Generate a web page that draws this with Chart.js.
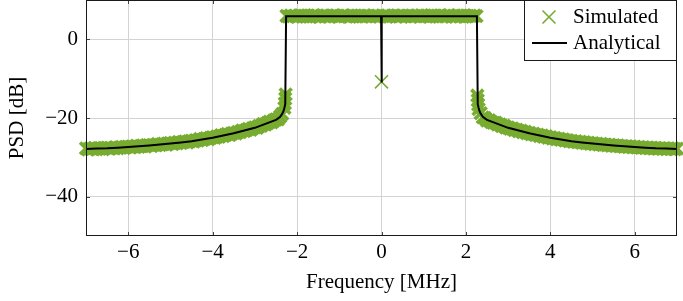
<!DOCTYPE html>
<html>
<head>
<meta charset="utf-8">
<script src="https://cdn.jsdelivr.net/npm/chart.js@4.4.1/dist/chart.umd.min.js"></script>
<style>
  html, body { margin: 0; padding: 0; background: #fff; }
  #wrap { width: 683px; height: 301px; }
</style>
</head>
<body>
<div id="wrap"><canvas id="c" width="683" height="301"></canvas></div>
<script>
// ---------- data ----------
const xTicks = [-6, -4, -2, 0, 2, 4, 6];
const yTicks = [-40, -20, 0];
const seriesNames = ['Simulated', 'Analytical'];

// Analytical PSD curve [MHz], [dB]
const anaFreq = [-7, -6.75, -6.5, -6.25, -6, -5.75, -5.5, -5.25, -5, -4.75, -4.5, -4.25, -4, -3.75, -3.5, -3.25, -3, -2.75, -2.5, -2.45, -2.4, -2.35, -2.32, -2.3, -2.28, -2.26,
  -0.01, 0, 0.01,
  2.26, 2.28, 2.3, 2.32, 2.35, 2.4, 2.45, 2.5, 2.75, 3, 3.25, 3.5, 3.75, 4, 4.25, 4.5, 4.75, 5, 5.25, 5.5, 5.75, 6, 6.25, 6.5, 6.75, 7];
const anaPsd = [-27.85, -27.78, -27.7, -27.55, -27.4, -27.2, -27.0, -26.75, -26.5, -26.2, -25.9, -25.45, -25.0, -24.45, -23.9, -23.2, -22.5, -21.5, -20.5, -20.1, -19.7, -18.9, -18.2, -17.4, -16.5, 5.9,
  5.9, -11.0, 5.9,
  5.9, -16.5, -17.4, -18.2, -18.9, -19.7, -20.1, -20.5, -21.5, -22.5, -23.2, -23.9, -24.45, -25.0, -25.45, -25.9, -26.2, -26.5, -26.75, -27.0, -27.2, -27.4, -27.55, -27.7, -27.78, -27.85];

// Simulated PSD samples [MHz], [dB]
const simFreq = [
  -7.00,-6.95,-6.90,-6.85,-6.80,-6.75,-6.70,-6.65,-6.60,-6.55,
  -6.50,-6.45,-6.40,-6.35,-6.30,-6.25,-6.20,-6.15,-6.10,-6.05,
  -6.00,-5.95,-5.90,-5.85,-5.80,-5.75,-5.70,-5.65,-5.60,-5.55,
  -5.50,-5.45,-5.40,-5.35,-5.30,-5.25,-5.20,-5.15,-5.10,-5.05,
  -5.00,-4.95,-4.90,-4.85,-4.80,-4.75,-4.70,-4.65,-4.60,-4.55,
  -4.50,-4.45,-4.40,-4.35,-4.30,-4.25,-4.20,-4.15,-4.10,-4.05,
  -4.00,-3.95,-3.90,-3.85,-3.80,-3.75,-3.70,-3.65,-3.60,-3.55,
  -3.50,-3.45,-3.40,-3.35,-3.30,-3.25,-3.20,-3.15,-3.10,-3.05,
  -3.00,-2.95,-2.90,-2.85,-2.80,-2.75,-2.70,-2.65,-2.60,-2.55,
  -2.50,-2.45,-2.40,-2.35,-2.30,
  -2.29,-2.28,-2.27,
  -2.25,-2.20,-2.15,-2.10,-2.05,-2.00,-1.95,-1.90,-1.85,-1.80,
  -1.75,-1.70,-1.65,-1.60,-1.55,-1.50,-1.45,-1.40,-1.35,-1.30,
  -1.25,-1.20,-1.15,-1.10,-1.05,-1.00,-0.95,-0.90,-0.85,-0.80,
  -0.75,-0.70,-0.65,-0.60,-0.55,-0.50,-0.45,-0.40,-0.35,-0.30,
  -0.25,-0.20,-0.15,-0.10,-0.05,
  0.00,
  0.05,0.10,0.15,0.20,0.25,
  0.30,0.35,0.40,0.45,0.50,0.55,0.60,0.65,0.70,0.75,
  0.80,0.85,0.90,0.95,1.00,1.05,1.10,1.15,1.20,1.25,
  1.30,1.35,1.40,1.45,1.50,1.55,1.60,1.65,1.70,1.75,
  1.80,1.85,1.90,1.95,2.00,2.05,2.10,2.15,2.20,2.25,
  2.27,2.28,2.29,
  2.30,2.35,2.40,2.45,2.50,2.55,2.60,2.65,2.70,2.75,
  2.80,2.85,2.90,2.95,3.00,3.05,3.10,3.15,3.20,3.25,
  3.30,3.35,3.40,3.45,3.50,3.55,3.60,3.65,3.70,3.75,
  3.80,3.85,3.90,3.95,4.00,4.05,4.10,4.15,4.20,4.25,
  4.30,4.35,4.40,4.45,4.50,4.55,4.60,4.65,4.70,4.75,
  4.80,4.85,4.90,4.95,5.00,5.05,5.10,5.15,5.20,5.25,
  5.30,5.35,5.40,5.45,5.50,5.55,5.60,5.65,5.70,5.75,
  5.80,5.85,5.90,5.95,6.00,6.05,6.10,6.15,6.20,6.25,
  6.30,6.35,6.40,6.45,6.50,6.55,6.60,6.65,6.70,6.75,
  6.80,6.85,6.90,6.95,7.00
];
const simPsd = [
  -27.72,-28.03,-27.76,-27.92,-27.61,-27.95,-27.71,-27.62,-27.94,-27.66,
  -27.57,-27.85,-27.60,-27.72,-27.41,-27.68,-27.49,-27.35,-27.65,-27.37,
  -27.27,-27.52,-27.25,-27.38,-27.05,-27.33,-27.12,-26.98,-27.27,-26.95,
  -26.89,-27.10,-26.84,-26.95,-26.62,-26.88,-26.67,-26.52,-26.80,-26.49,
  -26.37,-26.60,-26.31,-26.41,-26.07,-26.34,-26.11,-25.94,-26.22,-25.89,
  -25.79,-25.98,-25.66,-25.72,-25.35,-25.59,-25.33,-25.13,-25.39,-25.02,
  -24.88,-25.06,-24.72,-24.76,-24.37,-24.59,-24.31,-24.09,-24.33,-23.94,
  -23.78,-23.93,-23.57,-23.57,-23.15,-23.34,-23.03,-22.78,-22.99,-22.57,
  -22.38,-22.47,-22.04,-21.99,-21.51,-21.65,-21.27,-20.96,-21.11,-20.62,
  -20.38,-20.30,-19.62,-18.95,-17.42,
  -16.3,-15.1,-14.0,
  5.95,5.78,6.08,5.84,6.02,5.71,5.99,6.10,5.82,5.93,
  6.05,5.76,5.91,6.12,5.80,5.97,5.74,6.04,5.88,6.09,
  5.79,5.96,6.07,5.83,6.00,5.72,5.94,6.11,5.86,5.98,
  5.75,6.06,5.90,5.81,6.03,5.92,5.77,6.08,5.85,5.99,
  5.82,6.04,5.89,5.96,5.78,
  -10.8,
  6.01,5.87,6.09,5.80,5.95,
  6.07,5.74,5.98,5.86,6.10,5.83,5.93,6.02,5.76,5.97,
  5.88,6.05,5.79,6.11,5.91,5.84,6.03,5.73,5.99,6.06,
  5.81,5.94,6.08,5.77,6.00,5.89,6.12,5.82,5.96,5.75,
  6.04,5.86,5.97,6.09,5.79,5.92,6.01,5.74,6.06,5.90,
  -14.3,-15.5,-16.6,
  -17.75,-18.78,-19.85,-20.02,-20.66,-20.58,-21.03,-21.22,-21.18,-21.64,
  -21.62,-22.05,-21.97,-22.41,-22.43,-22.75,-22.68,-23.07,-22.95,-23.35,
  -23.22,-23.62,-23.51,-23.88,-23.79,-24.13,-23.99,-24.35,-24.22,-24.58,
  -24.44,-24.79,-24.66,-25.02,-24.91,-25.20,-25.08,-25.40,-25.27,-25.57,
  -25.44,-25.74,-25.62,-25.90,-25.81,-26.07,-25.93,-26.19,-26.05,-26.31,
  -26.18,-26.43,-26.30,-26.55,-26.42,-26.66,-26.52,-26.77,-26.61,-26.86,
  -26.72,-26.96,-26.81,-27.05,-26.93,-27.13,-27.00,-27.22,-27.09,-27.31,
  -27.17,-27.39,-27.25,-27.46,-27.33,-27.53,-27.39,-27.59,-27.45,-27.66,
  -27.51,-27.71,-27.57,-27.76,-27.62,-27.81,-27.66,-27.85,-27.70,-27.88,
  -27.72,-27.91,-27.75,-27.93,-27.78
];

// ---------- chart ----------
const GREEN = '#77ac30';
const FONT = '"Liberation Serif", "Times New Roman", serif';
Chart.defaults.font.family = FONT;
Chart.defaults.color = '#000';

const fmt = v => (v < 0 ? '\u2212' + Math.abs(v) : String(v));

const frameAndLegend = {
  id: 'frameAndLegend',
  afterDatasetsDraw(chart) {
    const ctx = chart.ctx, a = chart.chartArea;
    const xs = chart.scales.x, ys = chart.scales.y;
    ctx.save();
    // inward tick marks on all four sides
    ctx.strokeStyle = '#444';
    ctx.lineWidth = 1;
    ctx.beginPath();
    xTicks.forEach(v => {
      const px = Math.round(xs.getPixelForValue(v)) + 0.5;
      ctx.moveTo(px, a.bottom); ctx.lineTo(px, a.bottom - 4);
      ctx.moveTo(px, a.top); ctx.lineTo(px, a.top + 4);
    });
    yTicks.forEach(v => {
      const py = Math.round(ys.getPixelForValue(v)) + 0.5;
      ctx.moveTo(a.left, py); ctx.lineTo(a.left + 4, py);
      ctx.moveTo(a.right, py); ctx.lineTo(a.right - 4, py);
    });
    ctx.stroke();
    // frame
    ctx.strokeStyle = '#1a1a1a';
    ctx.lineWidth = 1;
    ctx.strokeRect(Math.round(a.left) + 0.5, Math.round(a.top) + 0.5,
                   Math.round(a.right - a.left) - 1, Math.round(a.bottom - a.top) - 1);

    // legend box (top-right, inside)
    const w = 153, h = 61;
    const x0 = Math.round(a.right) - w, y0 = Math.round(a.top);
    ctx.fillStyle = '#fff';
    ctx.fillRect(x0, y0, w, h);
    ctx.strokeStyle = '#1a1a1a';
    ctx.strokeRect(x0 + 0.5, y0 + 0.5, w - 1, h - 1);
    // marker for Simulated
    const mx = x0 + 25, my = y0 + 17, s = 6.5;
    ctx.strokeStyle = GREEN; ctx.lineWidth = 1.6;
    ctx.beginPath();
    ctx.moveTo(mx - s, my - s); ctx.lineTo(mx + s, my + s);
    ctx.moveTo(mx - s, my + s); ctx.lineTo(mx + s, my - s);
    ctx.stroke();
    // line for Analytical
    ctx.strokeStyle = '#000'; ctx.lineWidth = 2;
    ctx.beginPath();
    ctx.moveTo(x0 + 8, y0 + 43); ctx.lineTo(x0 + 43, y0 + 43);
    ctx.stroke();
    ctx.fillStyle = '#000';
    ctx.font = '21px ' + FONT;
    ctx.textBaseline = 'middle';
    ctx.textAlign = 'left';
    ctx.fillText(seriesNames[0], x0 + 49, my);
    ctx.fillText(seriesNames[1], x0 + 49, y0 + 43);
    ctx.restore();
  }
};

new Chart(document.getElementById('c'), {
  type: 'scatter',
  data: {
    datasets: [
      {
        label: seriesNames[1],
        data: anaFreq.map((f, i) => ({ x: f, y: anaPsd[i] })),
        showLine: true,
        borderColor: '#000',
        borderWidth: 2,
        pointRadius: 0,
        tension: 0,
        order: 0
      },
      {
        label: seriesNames[0],
        data: simFreq.map((f, i) => ({ x: f, y: simPsd[i] })),
        showLine: false,
        pointStyle: 'crossRot',
        // dense overlapping samples form a solid band; the lone centre sample stays thin
        pointRadius: c => (simFreq[c.dataIndex] === 0 ? 9.2 : 8.4),
        pointBorderWidth: c => (simFreq[c.dataIndex] === 0 ? 1.6 : 3.6),
        pointBorderColor: GREEN,
        pointBackgroundColor: GREEN,
        clip: false,
        order: 1
      }
    ]
  },
  options: {
    responsive: false,
    animation: false,
    events: [],
    layout: { padding: { top: 0, right: 6, left: 0, bottom: 0 }, autoPadding: false },
    plugins: { legend: { display: false }, tooltip: { enabled: false } },
    scales: {
      x: {
        type: 'linear',
        min: -7, max: 7,
        afterBuildTicks: s => { s.ticks = xTicks.map(v => ({ value: v })); },
        afterFit: s => { s.height = 65; s.paddingLeft = 0; s.paddingRight = 0; },
        ticks: { callback: fmt, font: { size: 21 }, padding: 4, maxRotation: 0 },
        grid: { color: '#d3d3d3', lineWidth: 1, drawTicks: false },
        border: { display: false },
        title: { display: true, text: 'Frequency [MHz]', font: { size: 21 }, padding: { top: 0, bottom: 6 } }
      },
      y: {
        type: 'linear',
        min: -50, max: 10,
        afterBuildTicks: s => { s.ticks = yTicks.map(v => ({ value: v })); },
        afterFit: s => { s.width = 86; s.paddingTop = 0; s.paddingBottom = 0; },
        ticks: { callback: fmt, font: { size: 21 }, padding: 8 },
        grid: { color: '#d3d3d3', lineWidth: 1, drawTicks: false },
        border: { display: false },
        title: { display: true, text: 'PSD [dB]', font: { size: 21 }, padding: { top: 5, bottom: 0 } }
      }
    }
  },
  plugins: [frameAndLegend]
});
</script>
</body>
</html>
